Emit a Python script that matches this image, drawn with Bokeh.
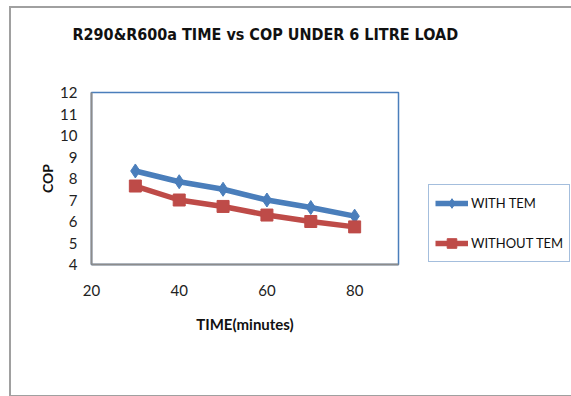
from bokeh.plotting import figure
from bokeh.models import Legend, LegendItem, Title, FixedTicker, Range1d
from bokeh.embed import file_html
from bokeh.resources import INLINE

time_min = [30, 40, 50, 60, 70, 80]
with_tem = [8.35, 7.85, 7.5, 7.0, 6.65, 6.25]
without_tem = [7.65, 7.0, 6.7, 6.3, 6.0, 5.75]
x_ticks = [20, 40, 60, 80]
y_ticks = [4, 5, 6, 7, 8, 9, 10, 11, 12]

BLUE = "#4a7ebb"
RED = "#be4b48"
TICK_FONT = "Lato"
TITLE_FONT = "DejaVu Sans Condensed"

p = figure(frame_width=307, frame_height=172, output_backend="svg", toolbar_location=None,
           title=None, x_range=Range1d(20, 90), y_range=Range1d(4, 12),
           min_border_left=80, min_border_right=175, min_border_top=84, min_border_bottom=131)
p.margin = (6, 0, 0, 9)
p.styles = {"border-left": "2px solid #a0a0a0", "border-top": "2px solid #a0a0a0",
            "border-bottom": "2px solid #a0a0a0"}
p.grid.visible = False
p.outline_line_color = BLUE
p.outline_line_width = 1.5

for ax in (p.xaxis[0], p.yaxis[0]):
    ax.axis_line_color = "#8c8c8c"
    ax.axis_line_width = 2
    ax.major_tick_line_color = None
    ax.minor_tick_line_color = None
    ax.major_label_text_font = TICK_FONT
    ax.major_label_text_font_size = "15px"
    ax.major_label_text_color = "#222222"
    ax.axis_label_text_font = TICK_FONT
    ax.axis_label_text_font_style = "bold"
    ax.axis_label_text_color = "#111111"

p.xaxis.ticker = FixedTicker(ticks=x_ticks)
p.yaxis.ticker = FixedTicker(ticks=y_ticks)
p.xaxis.major_label_standoff = 14
p.yaxis.major_label_standoff = 8
p.xaxis.axis_label = "TIME(minutes)"
p.xaxis.axis_label_text_font_size = "15px"
p.xaxis.axis_label_standoff = 16
p.yaxis.axis_label = "COP"
p.yaxis.axis_label_text_font_size = "14px"
p.yaxis.axis_label_standoff = 1

p.add_layout(Title(text="R290&R600a TIME vs COP UNDER 6 LITRE LOAD\n\n", text_font=TITLE_FONT,
                   text_font_size="16px", text_font_style="bold", text_color="#111111",
                   align="left", offset=-19, standoff=22), "above")

l1 = p.line(time_min, with_tem, line_color=BLUE, line_width=5.5)
m1 = p.scatter(time_min, with_tem, marker="diamond", size=14, fill_color=BLUE, line_color=BLUE)
l2 = p.line(time_min, without_tem, line_color=RED, line_width=5.5)
m2 = p.scatter(time_min, without_tem, marker="square", size=12, fill_color=RED, line_color=RED)

legend = Legend(items=[LegendItem(label="WITH TEM", renderers=[l1, m1]),
                       LegendItem(label="WITHOUT TEM", renderers=[l2, m2])],
                location=(30, 2), border_line_color=BLUE, border_line_width=1.5,
                label_text_font=TICK_FONT, label_text_font_size="13px", label_text_color="#111111",
                glyph_width=33, glyph_height=24, label_height=24, spacing=16, padding=6, margin=0,
                label_standoff=3, background_fill_alpha=1)
p.add_layout(legend, "right")

open("out.html", "w").write(file_html(p, INLINE))
